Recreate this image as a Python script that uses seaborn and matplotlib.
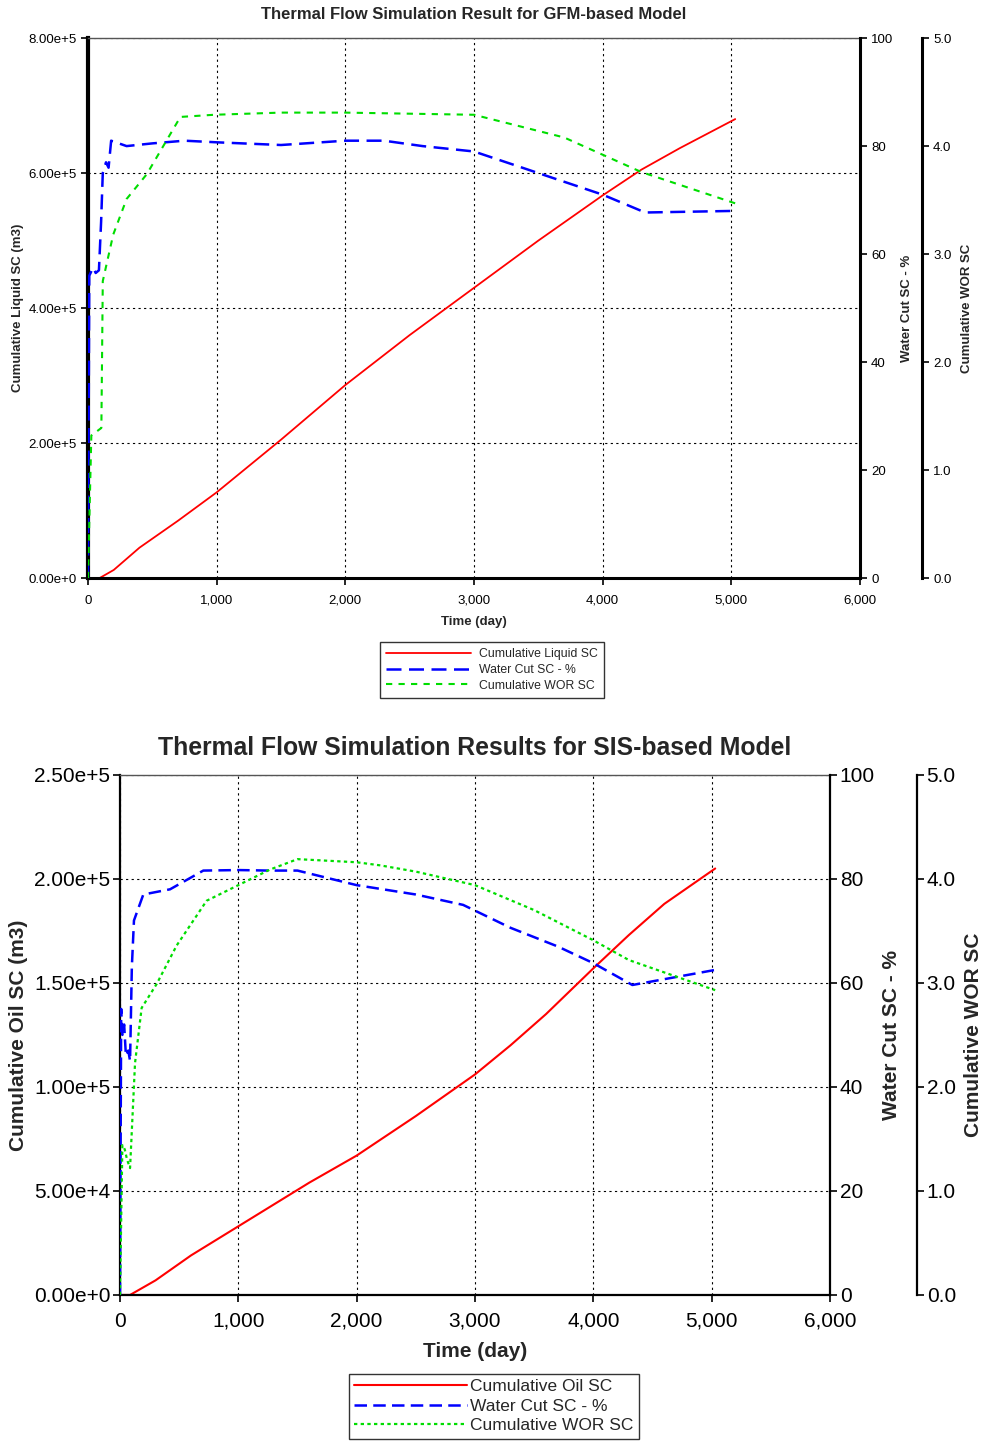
import numpy as np
import pandas as pd
import matplotlib
matplotlib.use("Agg")
import matplotlib.pyplot as plt
import seaborn as sns
from matplotlib.ticker import FuncFormatter, MultipleLocator
from matplotlib.lines import Line2D

# ---------------- data : GFM-based model (top) ----------------
gfm_liq_days = [0, 90, 200, 400, 700, 1000, 1500, 2000, 2500, 3000, 3500, 4000, 4300, 4600, 5030]
gfm_liq_vals = [0, 0, 1.2e4, 4.5e4, 8.5e4, 1.27e5, 2.05e5, 2.86e5, 3.6e5, 4.3e5, 5.0e5, 5.67e5, 6.05e5, 6.37e5, 6.8e5]

gfm_wc_days = [0, 10, 40, 60, 85, 102, 115, 140, 160, 180, 300, 500, 750, 1000, 1500, 2000, 2300, 2600, 3000, 3500, 4000, 4330, 5030]
gfm_wc_vals = [0, 56, 57.5, 56.5, 57, 66, 75, 77, 76, 81, 80, 80.5, 81, 80.7, 80.2, 81, 81, 80, 79, 75, 71, 67.7, 68]

gfm_wor_days = [0, 26, 104, 115, 196, 300, 457, 718, 980, 1500, 2000, 2500, 3000, 3300, 3700, 4000, 4300, 5030]
gfm_wor_vals = [0, 1.32, 1.39, 2.75, 3.18, 3.51, 3.74, 4.27, 4.29, 4.31, 4.31, 4.30, 4.29, 4.20, 4.08, 3.92, 3.76, 3.47]

# ---------------- data : SIS-based model (bottom) ----------------
sis_oil_days = [0, 85, 300, 600, 1000, 1600, 2000, 2500, 3000, 3300, 3600, 4000, 4300, 4600, 5030]
sis_oil_vals = [0, 0, 7e3, 1.9e4, 3.3e4, 5.4e4, 6.7e4, 8.6e4, 1.06e5, 1.2e5, 1.35e5, 1.57e5, 1.73e5, 1.88e5, 2.05e5]

sis_wc_days = [0, 10, 20, 35, 50, 70, 85, 100, 118, 197, 423, 704, 1000, 1268, 1500, 2000, 2500, 2900, 3300, 3700, 4000, 4330, 5030]
sis_wc_vals = [0, 55, 50, 52, 46, 47, 45, 63, 72, 77, 78, 81.6, 81.7, 81.6, 81.6, 78.8, 77, 75, 70.6, 67, 63.8, 59.6, 62.5]

sis_wor_days = [0, 20, 40, 60, 85, 127, 183, 310, 479, 732, 1000, 1268, 1500, 2000, 2200, 2500, 3000, 3500, 4000, 4300, 5030]
sis_wor_vals = [0, 1.44, 1.40, 1.30, 1.22, 2.23, 2.76, 2.99, 3.36, 3.79, 3.94, 4.09, 4.19, 4.16, 4.13, 4.07, 3.94, 3.70, 3.41, 3.22, 2.93]

x_ticks = [0, 1000, 2000, 3000, 4000, 5000, 6000]

sns.set_theme(style="white")
plt.rcParams['font.family'] = ['Liberation Sans', 'DejaVu Sans']
plt.rcParams['axes.unicode_minus'] = False

fig = plt.figure(figsize=(9.82, 14.43), dpi=100)


def sci_fmt(v, _):
    if abs(v) < 1e-12:
        return "0.00e+0"
    e = int(np.floor(np.log10(abs(v)) + 1e-9))
    m = v / 10 ** e
    return f"{m:.2f}e+{e}"


def comma_fmt(v, _):
    return f"{int(round(v)):,}"


def make_panel(rect, title, left_label, left_max, left_step,
               s1, s2, s3, styles, fs_tick, fs_label, fs_title,
               third_offset, spine_lw, label_pads, title_pad, tick_pad, xtick_pad):
    ax = fig.add_axes(rect)
    ax2 = ax.twinx()
    ax3 = ax.twinx()
    ax3.spines['right'].set_position(('outward', third_offset))

    df1 = pd.DataFrame({"day": s1[0], "val": s1[1]})
    df2 = pd.DataFrame({"day": s2[0], "val": s2[1]})
    df3 = pd.DataFrame({"day": s3[0], "val": s3[1]})
    sns.lineplot(data=df1, x="day", y="val", ax=ax, color="#ff0000",
                 lw=styles[0][1], estimator=None, sort=False, legend=False)
    sns.lineplot(data=df2, x="day", y="val", ax=ax2, color="#0000ff",
                 lw=styles[1][1], estimator=None, sort=False, legend=False)
    sns.lineplot(data=df3, x="day", y="val", ax=ax3, color="#00dd00",
                 lw=styles[2][1], estimator=None, sort=False, legend=False)
    ax2.lines[-1].set_dashes(styles[1][0])
    ax3.lines[-1].set_dashes(styles[2][0])

    ax.set_xlim(0, 6000)
    ax.set_xticks(x_ticks)
    ax.xaxis.set_major_formatter(FuncFormatter(comma_fmt))
    ax.set_ylim(0, left_max)
    ax.yaxis.set_major_locator(MultipleLocator(left_step))
    ax.yaxis.set_major_formatter(FuncFormatter(sci_fmt))
    ax2.set_ylim(0, 100)
    ax2.yaxis.set_major_locator(MultipleLocator(20))
    ax3.set_ylim(0, 5)
    ax3.yaxis.set_major_locator(MultipleLocator(1))
    ax3.yaxis.set_major_formatter(FuncFormatter(lambda v, _: f"{v:.1f}"))

    ax.grid(True, which='major', color='black', linestyle=(0, (2, 3)), lw=0.8)
    ax2.grid(False)
    ax3.grid(False)

    for a in (ax, ax2, ax3):
        a.tick_params(direction='out', length=5, width=1.2, labelsize=fs_tick,
                      colors='black', pad=tick_pad)
        for sp in a.spines.values():
            sp.set_color('black')
    ax.tick_params(axis='both', which='both', left=True, bottom=True)
    ax.tick_params(axis='x', pad=xtick_pad)
    ax2.tick_params(axis='y', right=True)
    ax3.tick_params(axis='y', right=True)

    ax.spines['left'].set_linewidth(spine_lw[0])
    ax.spines['bottom'].set_linewidth(spine_lw[1])
    ax.spines['top'].set_linewidth(1.0)
    ax.spines['top'].set_color('#555555')
    ax.spines['right'].set_visible(False)
    for a in (ax2, ax3):
        a.spines['right'].set_linewidth(spine_lw[2])
        a.spines['left'].set_visible(False)
        a.spines['top'].set_visible(False)
        a.spines['bottom'].set_visible(False)

    ax.set_xlabel("Time (day)", fontsize=fs_label, fontweight='bold', labelpad=label_pads[0])
    ax.set_ylabel(left_label, fontsize=fs_label, fontweight='bold', labelpad=label_pads[1])
    ax2.set_ylabel("Water Cut SC - %", fontsize=fs_label, fontweight='bold', labelpad=label_pads[2])
    ax3.set_ylabel("Cumulative WOR SC", fontsize=fs_label, fontweight='bold', labelpad=label_pads[3])
    ax.set_title(title, fontsize=fs_title, fontweight='bold', pad=title_pad)

    handles = [Line2D([], [], color="#ff0000", lw=styles[0][1]),
               Line2D([], [], color="#0000ff", lw=styles[1][1], dashes=styles[1][0]),
               Line2D([], [], color="#00dd00", lw=styles[2][1], dashes=styles[2][0])]
    return ax, handles


# ---------------- top panel ----------------
ax_top, h_top = make_panel(
    [0.0896, 0.5994, 0.7862, 0.3742],
    "Thermal Flow Simulation Result for GFM-based Model",
    "Cumulative Liquid SC (m3)", 8e5, 2e5,
    (gfm_liq_days, gfm_liq_vals), (gfm_wc_days, gfm_wc_vals), (gfm_wor_days, gfm_wor_vals),
    [(None, 1.3), ((6, 3), 1.8), ((3, 3), 1.5)],
    fs_tick=9.5, fs_label=9.5, fs_title=12,
    third_offset=44.6, spine_lw=(3.0, 2.2, 2.2), label_pads=(6.5, 3, 5.5, 6.5),
    title_pad=13.5, tick_pad=3, xtick_pad=7)

leg1 = fig.legend(h_top, ["Cumulative Liquid SC", "Water Cut SC - %", "Cumulative WOR SC"],
                  loc='center', bbox_to_anchor=(0.501, 0.5357), fontsize=8.8,
                  frameon=True, fancybox=False, edgecolor='black', handlelength=7.0,
                  labelspacing=0.3, borderpad=0.5, borderaxespad=0.5,
                  handletextpad=0.65)
leg1.get_frame().set_linewidth(1.0)

# ---------------- bottom panel ----------------
ax_bot, h_bot = make_panel(
    [0.1222, 0.1026, 0.7230, 0.3604],
    "Thermal Flow Simulation Results for SIS-based Model",
    "Cumulative Oil SC (m3)", 2.5e5, 5e4,
    (sis_oil_days, sis_oil_vals), (sis_wc_days, sis_wc_vals), (sis_wor_days, sis_wor_vals),
    [(None, 1.5), ((5, 2.5), 1.8), ((1.5, 1.5), 1.6)],
    fs_tick=15, fs_label=15, fs_title=17.8,
    third_offset=62.6, spine_lw=(1.6, 1.6, 1.6), label_pads=(8, 4, 5, 6),
    title_pad=14, tick_pad=2, xtick_pad=7)

leg2 = fig.legend(h_bot, ["Cumulative Oil SC", "Water Cut SC - %", "Cumulative WOR SC"],
                  loc='center', bbox_to_anchor=(0.503, 0.0256), fontsize=12.5,
                  frameon=True, fancybox=False, edgecolor='black', handlelength=6.5,
                  labelspacing=0.26, borderpad=0.3, handletextpad=0.2)
leg2.get_frame().set_linewidth(1.0)

fig.savefig("out.png", dpi=100, facecolor='white')
